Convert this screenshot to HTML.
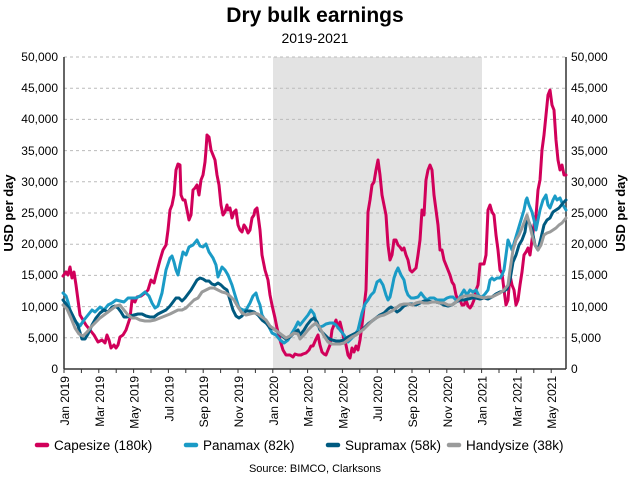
<!DOCTYPE html>
<html><head><meta charset="utf-8"><style>
html,body{margin:0;padding:0;background:#fff;}
svg{display:block;font-family:"Liberation Sans",sans-serif;}
</style></head><body>
<svg width="629" height="477" viewBox="0 0 629 477" xmlns="http://www.w3.org/2000/svg">
<text x="315" y="22" text-anchor="middle" font-size="21" font-weight="bold" fill="#000">Dry bulk earnings</text>
<text x="315" y="43" text-anchor="middle" font-size="14" fill="#000">2019-2021</text>
<rect x="273" y="57" width="209" height="312" fill="#e3e3e3"/>
<g stroke="#bbb" stroke-width="1" stroke-dasharray="3,3">
<line x1="64" x2="566" y1="57" y2="57"/><line x1="64" x2="566" y1="88.2" y2="88.2"/><line x1="64" x2="566" y1="119.4" y2="119.4"/><line x1="64" x2="566" y1="150.6" y2="150.6"/><line x1="64" x2="566" y1="181.8" y2="181.8"/><line x1="64" x2="566" y1="213" y2="213"/><line x1="64" x2="566" y1="244.2" y2="244.2"/><line x1="64" x2="566" y1="275.4" y2="275.4"/><line x1="64" x2="566" y1="306.6" y2="306.6"/><line x1="64" x2="566" y1="337.8" y2="337.8"/>
</g>
<g stroke="#333" stroke-width="1.5"><line x1="64" y1="57" x2="64" y2="369"/><line x1="566" y1="57" x2="566" y2="369"/><line x1="64" y1="369" x2="566" y2="369"/></g>
<g font-size="12" fill="#000" text-anchor="end">
<text x="58" y="61">50,000</text><text x="58" y="92">45,000</text><text x="58" y="123">40,000</text><text x="58" y="155">35,000</text><text x="58" y="186">30,000</text><text x="58" y="217">25,000</text><text x="58" y="248">20,000</text><text x="58" y="279">15,000</text><text x="58" y="311">10,000</text><text x="58" y="342">5,000</text><text x="58" y="373">0</text>
</g>
<g font-size="12" fill="#000" text-anchor="start">
<text x="571" y="61">50,000</text><text x="571" y="92">45,000</text><text x="571" y="123">40,000</text><text x="571" y="155">35,000</text><text x="571" y="186">30,000</text><text x="571" y="217">25,000</text><text x="571" y="248">20,000</text><text x="571" y="279">15,000</text><text x="571" y="311">10,000</text><text x="571" y="342">5,000</text><text x="571" y="373">0</text>
</g>
<text transform="translate(13,213) rotate(-90)" text-anchor="middle" font-size="13" font-weight="bold">USD per day</text>
<text transform="translate(625,213) rotate(-90)" text-anchor="middle" font-size="13" font-weight="bold">USD per day</text>
<g stroke="#333" stroke-width="1">
<line x1="64" x2="64" y1="369" y2="373"/><line x1="81.4" x2="81.4" y1="369" y2="373"/><line x1="98.8" x2="98.8" y1="369" y2="373"/><line x1="116.2" x2="116.2" y1="369" y2="373"/><line x1="133.6" x2="133.6" y1="369" y2="373"/><line x1="151" x2="151" y1="369" y2="373"/><line x1="168.4" x2="168.4" y1="369" y2="373"/><line x1="185.8" x2="185.8" y1="369" y2="373"/><line x1="203.2" x2="203.2" y1="369" y2="373"/><line x1="220.6" x2="220.6" y1="369" y2="373"/><line x1="238" x2="238" y1="369" y2="373"/><line x1="255.4" x2="255.4" y1="369" y2="373"/><line x1="272.8" x2="272.8" y1="369" y2="373"/><line x1="290.2" x2="290.2" y1="369" y2="373"/><line x1="307.6" x2="307.6" y1="369" y2="373"/><line x1="325" x2="325" y1="369" y2="373"/><line x1="342.4" x2="342.4" y1="369" y2="373"/><line x1="359.8" x2="359.8" y1="369" y2="373"/><line x1="377.2" x2="377.2" y1="369" y2="373"/><line x1="394.6" x2="394.6" y1="369" y2="373"/><line x1="412" x2="412" y1="369" y2="373"/><line x1="429.4" x2="429.4" y1="369" y2="373"/><line x1="446.8" x2="446.8" y1="369" y2="373"/><line x1="464.2" x2="464.2" y1="369" y2="373"/><line x1="481.6" x2="481.6" y1="369" y2="373"/><line x1="499" x2="499" y1="369" y2="373"/><line x1="516.4" x2="516.4" y1="369" y2="373"/><line x1="533.8" x2="533.8" y1="369" y2="373"/><line x1="551.2" x2="551.2" y1="369" y2="373"/>
</g>
<g font-size="12" fill="#000" text-anchor="end">
<text transform="translate(69,376) rotate(-90)">Jan 2019</text>
<text transform="translate(103.8,376) rotate(-90)">Mar 2019</text>
<text transform="translate(138.6,376) rotate(-90)">May 2019</text>
<text transform="translate(173.4,376) rotate(-90)">Jul 2019</text>
<text transform="translate(208.2,376) rotate(-90)">Sep 2019</text>
<text transform="translate(243,376) rotate(-90)">Nov 2019</text>
<text transform="translate(277.8,376) rotate(-90)">Jan 2020</text>
<text transform="translate(312.6,376) rotate(-90)">Mar 2020</text>
<text transform="translate(347.4,376) rotate(-90)">May 2020</text>
<text transform="translate(382.2,376) rotate(-90)">Jul 2020</text>
<text transform="translate(417,376) rotate(-90)">Sep 2020</text>
<text transform="translate(451.8,376) rotate(-90)">Nov 2020</text>
<text transform="translate(486.6,376) rotate(-90)">Jan 2021</text>
<text transform="translate(521.4,376) rotate(-90)">Mar 2021</text>
<text transform="translate(556.2,376) rotate(-90)">May 2021</text>
</g>
<g fill="none" stroke-width="3" stroke-linejoin="round" stroke-linecap="round">
<polyline stroke="#d1005a" points="63,276 66,272 68,275 70,267 72,278 74,272 76,285 78,300 80,315 83,320 86,325 90,330 94,335 98,342 102,340 105,343 107,335 109,340 111,348 114,345 116,348 118,345 120,337 123,335 126,330 130,318 132,300 135,302 137,297 141,296 145,293 148,290 151,280 154,283 156,275 160,260 163,250 166,245 168,230 170,210 172,205 174,195 176,170 178,164 180,165 181,195 183,200 185,200 187,210 189,220 191,215 193,190 195,188 197,185 199,195 201,180 203,175 205,162 206,150 207,135 209,137 211,150 213,155 215,160 217,175 219,185 221,205 223,215 225,212 227,205 228,210 230,208 232,218 234,212 236,210 238,225 240,230 242,232 244,225 246,228 248,233 250,230 252,218 254,215 255,210 257,208 258,215 260,230 262,255 265,270 268,280 270,295 272,305 275,318 277,328 280,340 283,350 286,355 290,355 293,357 295,354 298,355 301,355 303,354 306,353 309,350 311,346 313,346 316,339 318,335 320,345 322,352 324,354 326,355 328,350 330,345 332,330 334,325 336,320 338,328 340,322 342,330 344,340 346,345 348,355 350,358 352,348 354,352 356,346 358,350 360,340 362,325 366,290 368,212 370,200 372,185 374,182 376,170 378,160 380,175 382,195 384,205 386,215 388,245 390,260 392,255 394,240 396,240 398,245 400,247 402,250 404,248 406,255 408,260 410,270 412,272 414,270 416,268 418,255 420,240 422,210 424,215 426,180 428,170 430,165 432,170 434,195 436,210 438,225 440,250 442,250 444,260 446,265 448,270 450,275 452,282 454,285 456,295 458,300 460,300 462,305 464,305 466,300 468,306 470,308 472,305 474,300 476,290 478,285 480,264 484,264 486,255 488,210 490,205 492,212 494,215 496,235 498,250 500,270 502,273 504,290 506,305 508,300 510,275 512,285 514,290 516,305 518,300 520,285 522,272 524,255 526,252 528,248 530,255 532,240 534,225 536,216 538,190 540,180 542,150 544,135 546,115 548,95 550,90 552,105 554,110 556,140 558,160 560,170 562,165 564,175 566,175"/>
<polyline stroke="#1a9bc6" points="63,293 66,296 68,302 70,310 73,318 76,322 80,326 84,320 88,315 92,310 95,312 100,307 104,310 108,305 112,303 116,300 120,301 124,302 128,298 132,298 136,298 140,296 145,292 149,296 152,303 155,308 158,306 162,293 166,270 170,258 172,256 174,262 176,270 178,275 180,265 183,252 186,255 189,247 193,245 197,240 200,246 203,247 206,244 209,252 213,258 216,265 218,277 222,267 225,270 228,275 232,285 235,295 239,308 243,310 246,310 250,303 253,296 256,293 258,300 260,305 262,315 265,320 268,325 272,333 276,335 280,340 284,343 288,340 292,333 295,328 298,322 300,325 304,320 308,315 311,310 314,314 317,325 320,327 323,326 326,324 330,323 333,323 336,325 340,330 344,335 348,342 352,338 356,333 358,330 362,313 365,304 368,300 371,295 374,292 377,282 380,280 383,285 386,295 388,300 390,297 392,288 394,278 396,272 398,268 401,275 404,280 406,290 408,295 411,298 414,298 418,297 421,293 424,297 427,300 430,298 434,298 437,300 440,300 444,300 447,298 450,297 453,297 456,300 458,300 461,295 464,290 467,295 470,290 473,292 476,290 479,296 482,297 485,294 488,290 490,280 492,278 494,280 497,278 500,278 502,275 504,270 506,255 508,240 510,245 512,250 515,240 518,230 521,220 524,210 526,200 527,198 529,205 532,212 534,220 536,230 538,220 540,210 543,200 546,195 548,205 550,208 553,200 555,196 557,200 560,198 563,205 566,210"/>
<polyline stroke="#005a80" points="63,300 66,304 70,310 74,318 78,326 82,339 85,339 88,334 92,325 96,318 100,313 104,310 108,312 112,307 115,306 118,308 121,312 124,317 127,317 130,316 134,315 138,314 142,314 146,316 150,317 154,317 158,314 162,312 166,310 170,306 173,302 176,298 179,298 182,301 185,298 188,294 191,290 194,285 197,280 200,278 203,279 206,281 209,281 212,284 215,285 218,283 221,285 224,288 227,290 230,300 233,310 236,316 239,318 242,316 246,311 250,311 254,312 258,315 262,320 266,323 270,328 274,329 278,332 282,336 286,339 290,337 294,333 298,330 300,335 304,330 307,325 311,320 314,318 317,322 320,330 324,334 328,338 332,340 336,341 340,341 344,340 348,337 352,335 356,333 360,332 364,328 368,324 372,321 376,318 380,315 384,313 388,309 391,307 394,309 397,312 400,310 404,306 408,304 412,304 416,305 420,303 424,301 428,301 432,302 436,302 440,303 444,305 448,306 452,305 456,302 460,300 464,300 468,299 472,298 476,298 480,299 484,298 488,299 492,297 496,294 500,292 504,291 507,289 510,280 513,262 516,255 519,245 522,240 525,232 527,218 529,222 532,230 535,245 538,250 541,238 544,225 547,220 550,218 553,212 556,210 559,208 563,203 566,200"/>
<polyline stroke="#9a9b9b" points="63,305 67,309 71,318 75,328 79,334 83,336 87,332 91,327 96,322 100,318 104,315 108,312 112,309 116,306 120,305 124,310 128,315 132,318 136,318 140,320 145,321 150,321 155,320 160,318 165,316 170,314 174,312 178,310 182,310 186,308 190,304 194,300 198,298 202,292 206,290 210,288 214,288 218,290 222,292 226,293 230,296 234,300 238,307 242,313 246,315 250,314 254,313 258,314 262,317 266,320 270,326 274,329 278,332 282,335 286,338 290,336 294,333 298,334 300,339 304,335 308,330 312,326 316,323 320,328 324,336 328,342 332,344 336,344 340,344 344,343 348,340 352,337 356,335 360,332 364,329 368,325 372,321 376,318 380,316 384,315 388,313 392,311 396,308 400,305 404,304 408,304 412,305 416,303 420,302 424,303 428,303 432,302 436,302 440,303 444,303 448,305 452,305 456,302 460,298 464,296 468,296 472,295 476,296 480,297 484,298 488,297 492,297 496,295 500,293 504,290 508,285 510,270 513,250 516,240 519,235 522,228 525,220 527,215 529,222 532,235 535,245 538,250 541,245 544,235 547,233 550,232 553,230 556,228 559,225 562,223 566,218"/>
</g>
<g stroke-width="4.5" stroke-linecap="round">
<line x1="37" x2="47" y1="445" y2="445" stroke="#d1005a"/>
<line x1="186" x2="196" y1="445" y2="445" stroke="#1a9bc6"/>
<line x1="328" x2="338" y1="445" y2="445" stroke="#005a80"/>
<line x1="449" x2="459" y1="445" y2="445" stroke="#9a9b9b"/>
</g>
<g font-size="13.5" fill="#000">
<text x="54" y="450">Capesize (180k)</text>
<text x="203" y="450">Panamax (82k)</text>
<text x="345" y="450">Supramax (58k)</text>
<text x="466" y="450">Handysize (38k)</text>
</g>
<text x="315" y="472" text-anchor="middle" font-size="11" fill="#000">Source: BIMCO, Clarksons</text>
</svg>
</body></html>
